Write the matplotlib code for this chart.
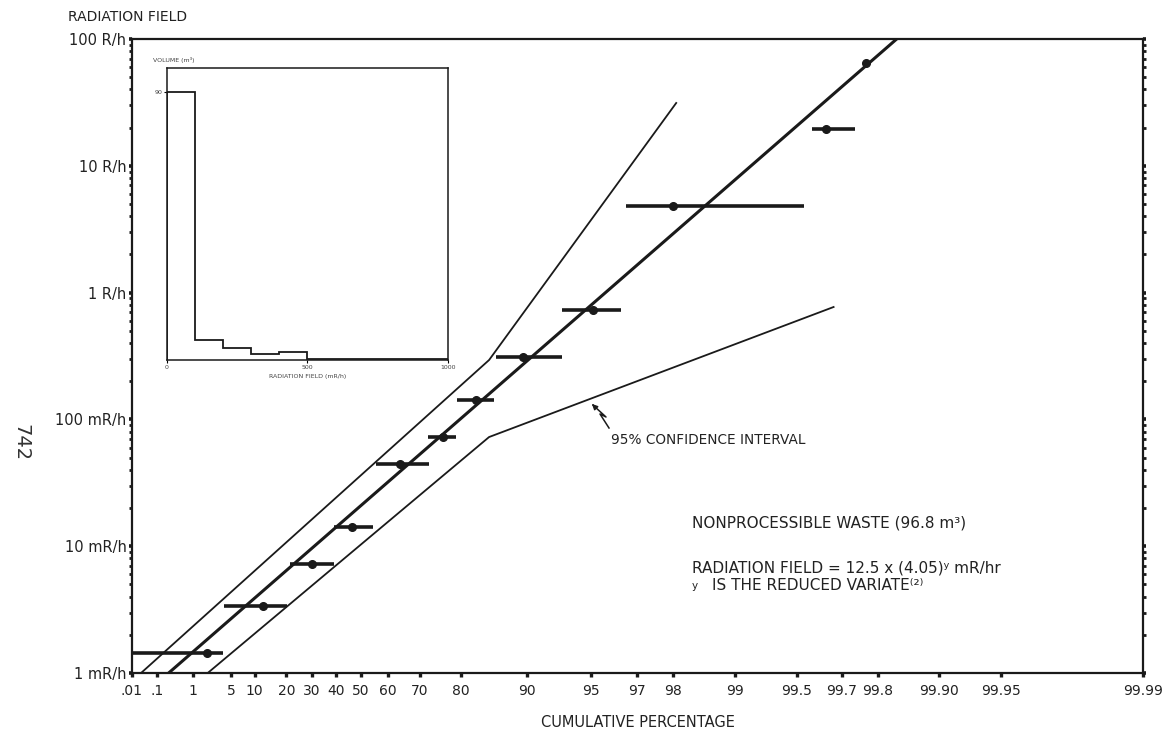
import numpy as np
import matplotlib
matplotlib.use("Agg")
import matplotlib.pyplot as plt
from matplotlib.ticker import FixedLocator, LogLocator, NullFormatter, NullLocator

plt.rcParams['font.family'] = ['DejaVu Sans']
INK = '#1a1a1a'

# measured points: cumulative percentage (dot, bar ends) and radiation field (mR/h)
pct_mid = [1.9, 12.3, 30.0, 46.5, 64.1, 76.1, 82.9, 89.5, 95.1, 98.0, 99.64, 99.77]
pct_lo = [0.01, 3.9, 21.4, 39.2, 55.8, 72.4, 79.2, 86.1, 93.1, 96.6, 99.58, 99.77]
pct_hi = [3.7, 20.3, 39.2, 54.7, 72.6, 79.0, 85.8, 93.1, 96.4, 99.54, 99.74, 99.77]
field = [1.44, 3.38, 7.24, 14.2, 44.5, 72.6, 142, 311, 729, 4820, 19500, 64700]

# fitted line: field = 12.5 * 4.05**y  (y = reduced variate)
fit_a, fit_b = 12.5, 4.05

# 95% confidence interval lines
upper_pct = [0.0245, 85, 98.06]
upper_field = [1, 294, 31300]
lower_pct = [2.0, 85, 99.67]
lower_field = [1, 72.6, 770]

# inset histogram
inset_edges = [0, 100, 200, 300, 400, 500, 1000]
inset_volume = [90, 6.7, 4.0, 1.9, 2.8, 0.4]

x_ticks = [0.01, 0.1, 1, 5, 10, 20, 30, 40, 50, 60, 70, 80, 90, 95, 97, 98, 99,
           99.5, 99.7, 99.8, 99.9, 99.95, 99.99]
x_ticklabels = ['.01', '.1', '1', '5', '10', '20', '30', '40', '50', '60', '70', '80',
                '90', '95', '97', '98', '99', '99.5', '99.7', '99.8', '99.90', '99.95', '99.99']
y_ticks = [1, 10, 100, 1000, 10000, 100000]
y_ticklabels = ['1 mR/h', '10 mR/h', '100 mR/h', '1 R/h', '10 R/h', '100 R/h']


def gumbel(p):
    p = np.clip(np.asarray(p, dtype=float) / 100.0, 1e-12, 1 - 1e-12)
    return -np.log(-np.log(p))


def gumbel_inv(v):
    return 100.0 * np.exp(-np.exp(-np.asarray(v, dtype=float)))


fig = plt.figure(figsize=(11.65, 7.32), dpi=100)
ax = fig.add_axes([0.1133, 0.0806, 0.8678, 0.8661])
ax.set_xscale('function', functions=(gumbel, gumbel_inv))
ax.set_yscale('log')
ax.set_xlim(0.01, 99.99)
ax.set_ylim(1, 1e5)

# fitted line
v = np.linspace(gumbel(0.01), gumbel(99.99), 400)
ax.plot(gumbel_inv(v), fit_a * fit_b ** v, color=INK, lw=2.2)

# confidence interval
ax.plot(upper_pct, upper_field, color=INK, lw=1.3)
ax.plot(lower_pct, lower_field, color=INK, lw=1.3)

# data with horizontal bars
ax.hlines(field, pct_lo, pct_hi, color=INK, lw=2.6)
ax.plot(pct_mid, field, 'o', color=INK, ms=5.5)

# axes styling
for s in ax.spines.values():
    s.set_linewidth(1.6)
    s.set_color(INK)
ax.xaxis.set_major_locator(FixedLocator(x_ticks))
ax.set_xticklabels(x_ticklabels, fontsize=10, color='#222')
ax.xaxis.set_minor_locator(NullLocator())
ax.yaxis.set_major_locator(FixedLocator(y_ticks))
ax.set_yticklabels(y_ticklabels, fontsize=10.5, color='#222')
ax.yaxis.set_minor_locator(LogLocator(base=10, subs=np.arange(2, 10)))
ax.yaxis.set_minor_formatter(NullFormatter())
ax.tick_params(axis='x', which='major', direction='out', length=3, width=2.4,
               color=INK, pad=5)
ax.tick_params(axis='y', which='major', direction='out', length=2.5, width=2.6,
               color=INK, pad=1.5, right=True)
ax.tick_params(axis='y', which='minor', direction='out', length=2, width=2,
               color=INK, right=True)
ax.set_xlabel('CUMULATIVE PERCENTAGE', fontsize=10.5, color='#222', labelpad=12)

# inset histogram
axi = fig.add_axes([0.1433, 0.5082, 0.2412, 0.3989])
axi.stairs(inset_volume, inset_edges, color=INK, lw=1.3)
axi.set_xlim(0, 1000)
axi.set_ylim(0, 98)
axi.set_xticks([0, 500, 1000])
axi.set_xticklabels(['0', '500', '1000'], fontsize=4.5, color='#444')
axi.set_yticks([90])
axi.set_yticklabels(['90'], fontsize=4.5, color='#444')
axi.tick_params(length=2, width=0.8, pad=1.5)
for s in axi.spines.values():
    s.set_linewidth(1.1)
    s.set_color(INK)
axi.set_xlabel('RADIATION FIELD (mR/h)', fontsize=4.5, color='#444', labelpad=3)
fig.text(0.131, 0.918, 'VOLUME (m³)', fontsize=4.5, color='#444', va='center')

# texts
fig.text(0.0584, 0.977, 'RADIATION FIELD', fontsize=10, color='#222', va='center')
fig.text(0.018, 0.396, '742', fontsize=14, color='#333', rotation=-90,
         ha='center', va='center')
fig.text(0.5245, 0.399, '95% CONFIDENCE INTERVAL', fontsize=9.8, color='#222',
         va='center')
fig.text(0.594, 0.2855, 'NONPROCESSIBLE WASTE (96.8 m³)', fontsize=11, color='#222',
         va='center')
fig.text(0.594, 0.224, 'RADIATION FIELD = 12.5 x (4.05)ʸ mR/hr', fontsize=11,
         color='#222', va='center')
fig.text(0.594, 0.199, 'y', fontsize=7.5, color='#222', va='center')
fig.text(0.611, 0.1995, 'IS THE REDUCED VARIATE⁽²⁾', fontsize=11, color='#222',
         va='center')

# zigzag pointer to the confidence line
W, H = 1165.0, 732.0
zig = [(609, 428), (600, 414), (606, 417), (594, 406)]
fig.add_artist(plt.Line2D([p[0] / W for p in zig], [1 - p[1] / H for p in zig],
                          color=INK, lw=1.1))
ax.annotate('', xy=(590 / W, 1 - 402 / H), xytext=(595 / W, 1 - 407 / H),
            xycoords='figure fraction', textcoords='figure fraction',
            arrowprops=dict(arrowstyle='-|>', color=INK, lw=1, mutation_scale=8))

fig.savefig('out.png', dpi=100)
